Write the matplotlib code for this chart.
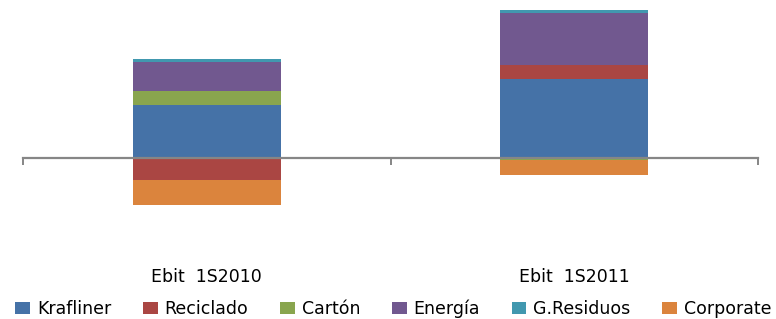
import numpy as np
import matplotlib.pyplot as plt
from matplotlib.patches import Patch

categories = ['Ebit  1S2010', 'Ebit  1S2011']
series = ['Krafliner', 'Reciclado', 'Cartón', 'Energía', 'G.Residuos', 'Corporate']
krafliner = [53.0, 78.4]
reciclado = [-22.3, 14.0]
carton = [13.7, -2.0]
energia = [29.3, 52.3]
residuos = [2.4, 3.0]
corporate = [-25.3, -15.0]
colors = ['#4572A7', '#AA4643', '#89A54E', '#71588F', '#4198AF', '#DB843D']

values = [krafliner, reciclado, carton, energia, residuos, corporate]

plt.rcParams['font.family'] = ['DejaVu Sans']
fig = plt.figure(figsize=(7.76, 3.19), dpi=100)
W, H = 776, 319
ax = fig.add_axes([23 / W, 1 - 240 / H, (758 - 23) / W, 235 / H])

x = np.arange(len(categories))
pos_base = np.zeros(len(categories))
neg_base = np.zeros(len(categories))
for name, vals, col in zip(series, values, colors):
    vals = np.array(vals)
    bottoms = np.where(vals >= 0, pos_base, neg_base)
    ax.bar(x, vals, width=0.403, bottom=bottoms, color=col, label=name, zorder=2)
    pos_base += np.where(vals >= 0, vals, 0)
    neg_base += np.where(vals < 0, vals, 0)

ax.set_xlim(-0.5, 1.5)
ax.set_ylim(-82.3, 152.7)
for s in ['top', 'right', 'left']:
    ax.spines[s].set_visible(False)
ax.spines['bottom'].set_position(('data', 0))
ax.spines['bottom'].set_color('#868686')
ax.spines['bottom'].set_linewidth(1.6)
ax.spines['bottom'].set_zorder(3)
ax.set_yticks([])
ax.set_xticks([-0.5, 0.5, 1.5])
ax.set_xticklabels([])
ax.tick_params(axis='x', direction='out', length=5, width=1.4, color='#868686')

for xi, lab in zip(x, categories):
    ax.text(xi, -123.8, lab, ha='center', va='baseline', fontsize=12.5, color='#000000')

handles = [Patch(facecolor=c, label=s) for s, c in zip(series, colors)]
fig.legend(handles=handles, loc='center', bbox_to_anchor=(0.507, 1 - 309 / H), ncol=6,
           frameon=False, fontsize=12.5, handlelength=0.85, handleheight=0.65,
           handletextpad=0.4, columnspacing=1.82, borderaxespad=0, borderpad=0)

fig.savefig('out.png', dpi=100)
